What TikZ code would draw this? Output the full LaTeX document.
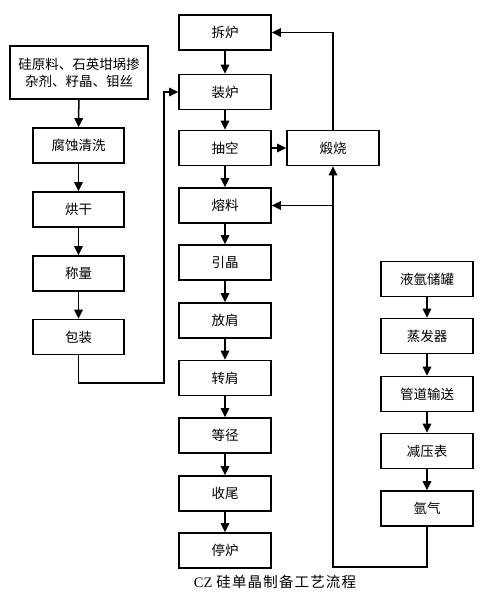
\documentclass[tikz,border=0pt]{standalone}
\usepackage{fontspec}
\setmainfont{Liberation Serif}
\newfontfamily\cjk{Noto Sans CJK SC}
\usetikzlibrary{arrows.meta}
\begin{document}
\begin{tikzpicture}[x=1pt,y=-1pt,
  box/.style={draw, line width=1.6pt, minimum width=92pt, minimum height=35pt, inner sep=0pt,
    font=\cjk\fontsize{13.5}{16}\selectfont, align=center},
  arr/.style={line width=1.5pt, -{Triangle[length=9pt,width=8.5pt]}},
  ln/.style={line width=1.5pt}]
\useasboundingbox (0,0) rectangle (500,592);
% left column
\node[box, minimum width=138pt, minimum height=53pt] (raw) at (79,72.5) {硅原料、石英坩埚掺\\[1pt]杂剂、籽晶、钼丝};
\node[box, minimum width=91pt] (fs) at (78.5,145.5) {腐蚀清洗};
\node[box, minimum width=91pt] (hg) at (78.5,209.5) {烘干};
\node[box, minimum width=91pt] (cl) at (78.5,273.5) {称量};
\node[box, minimum width=91pt] (bz) at (78.5,337) {包装};
% centre column
\node[box] (cl1) at (225,32.5) {拆炉};
\node[box] (zl) at (225,92) {装炉};
\node[box] (ck) at (225,148) {抽空};
\node[box] (rl) at (225,205.5) {熔料};
\node[box] (yj) at (225,262.5) {引晶};
\node[box] (fj) at (225,320.5) {放肩};
\node[box] (zj) at (225,378) {转肩};
\node[box] (dj) at (225,435.5) {等径};
\node[box] (sw) at (225,493.5) {收尾};
\node[box] (tl) at (225,550.5) {停炉};
\node[box] (ds) at (333,148) {煅烧};
% right column
\node[box] (ya) at (427,279) {液氩储罐};
\node[box] (zf) at (427,336) {蒸发器};
\node[box] (gd) at (427,394) {管道输送};
\node[box] (jy) at (427,451) {减压表};
\node[box] (aq) at (427,508.5) {氩气};
% caption
\node (cap) at (275,582) {\fontsize{14.5}{16}\selectfont CZ\;{\cjk\addfontfeature{LetterSpace=8}硅单晶制备工艺流程}};
% coordinates
\coordinate (bl) at (78.5,383);
\coordinate (bm) at (164,383);
\coordinate (br) at (427,567);
\coordinate (bc) at (333,567);
\coordinate (rb) at (333,205.5);
% arrows left
\draw[arr] (raw) -- (fs);
\draw[arr] (fs) -- (hg);
\draw[arr] (hg) -- (cl);
\draw[arr] (cl) -- (bz);
\draw[arr] (bz.south) -- (bl) -- (bm) |- (zl.west);
% arrows centre
\draw[arr] (cl1) -- (zl);
\draw[arr] (zl) -- (ck);
\draw[arr] (ck) -- (rl);
\draw[arr] (rl) -- (yj);
\draw[arr] (yj) -- (fj);
\draw[arr] (fj) -- (zj);
\draw[arr] (zj) -- (dj);
\draw[arr] (dj) -- (sw);
\draw[arr] (sw) -- (tl);
\draw[arr] (ck) -- (ds);
\draw[arr] (ds.north) |- (cl1.east);
% arrows right
\draw[arr] (ya) -- (zf);
\draw[arr] (zf) -- (gd);
\draw[arr] (gd) -- (jy);
\draw[arr] (jy) -- (aq);
\draw[arr] (aq.south) -- (br) -- (bc) -- (ds.south);
\draw[arr] (rb) -- (rl.east);
\end{tikzpicture}
\end{document}
